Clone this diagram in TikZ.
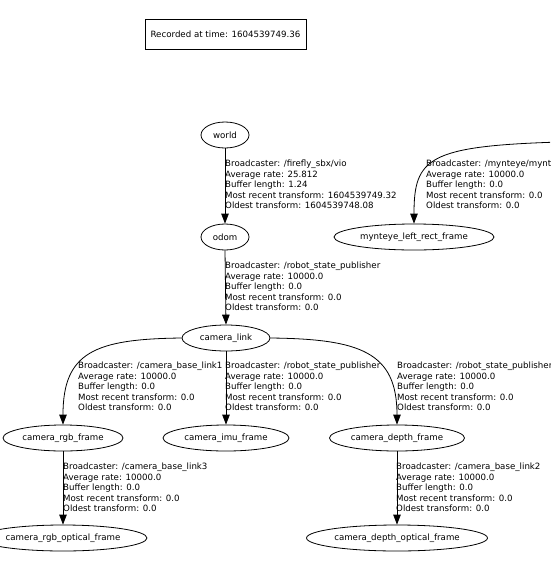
\documentclass[tikz,border=0pt]{standalone}
\usepackage{fontspec}
\setmainfont{DejaVu Sans}
\usetikzlibrary{shapes.geometric, arrows.meta}
\tikzstyle{frame}=[draw, ellipse, minimum height=26pt, inner sep=0pt, line width=0.8pt]
\tikzstyle{tf}=[line width=0.8pt, -{Triangle[length=10pt, width=7.5pt]}]
\tikzstyle{info}=[anchor=north west, align=left, inner sep=0pt]

\begin{document}
\begin{tikzpicture}[x=1pt, y=-1pt, font=\fontsize{8.65}{10.5}\selectfont]
				\useasboundingbox (0,0) rectangle (550,582);
				\clip (0,0) rectangle (550,582);

				\node[draw, line width=0.8pt, minimum width=161pt, minimum height=30pt] (stamp) at (225.5,34) {Recorded at time: 1604539749.36};

				\node[frame, minimum width=48pt] (world) at (225,135) {world};
				\node[frame, minimum width=48pt] (odom) at (225,237) {odom};
				\node[frame, minimum width=160pt] (mynteye) at (414,237) {mynteye\_left\_rect\_frame};
				\node[frame, minimum width=88pt] (camlink) at (226,338) {camera\_link};
				\node[frame, minimum width=120pt] (rgb) at (63,438) {camera\_rgb\_frame};
				\node[frame, minimum width=126pt] (imu) at (226,438) {camera\_imu\_frame};
				\node[frame, minimum width=135pt] (depth) at (397,438) {camera\_depth\_frame};
				\node[frame, minimum width=168pt] (rgbopt) at (63,538) {camera\_rgb\_optical\_frame};
				\node[frame, minimum width=181pt] (depthopt) at (397,538) {camera\_depth\_optical\_frame};

				\coordinate (mynteyesrc) at (560,142);

				\draw[tf] (world.south) -- (odom.north);
				\draw[tf] (odom.south) -- (camlink.north);
				\draw[tf] (mynteyesrc) .. controls (428,146) and (414,158) .. (mynteye.north);
				\draw[tf] (camlink.west) .. controls (95,339) and (63,352) .. (rgb.north);
				\draw[tf] (camlink.south) -- (imu.north);
				\draw[tf] (camlink.east) .. controls (360,339) and (397,352) .. (depth.north);
				\draw[tf] (rgb.south) -- (rgbopt.north);
				\draw[tf] (depth.south) -- (depthopt.north);

				\node[info] (worldinfo) at (225,160) {Broadcaster: /firefly\_sbx/vio\\Average rate: 25.812\\Buffer length: 1.24\\Most recent transform: 1604539749.32\\Oldest transform: 1604539748.08};
				\node[info] (odominfo) at (225,262) {Broadcaster: /robot\_state\_publisher\\Average rate: 10000.0\\Buffer length: 0.0\\Most recent transform: 0.0\\Oldest transform: 0.0};
				\node[info] (mynteyeinfo) at (426,160) {Broadcaster: /mynteye/mynt\\Average rate: 10000.0\\Buffer length: 0.0\\Most recent transform: 0.0\\Oldest transform: 0.0};
				\node[info] (rgbinfo) at (78,362) {Broadcaster: /camera\_base\_link1\\Average rate: 10000.0\\Buffer length: 0.0\\Most recent transform: 0.0\\Oldest transform: 0.0};
				\node[info] (imuinfo) at (225,362) {Broadcaster: /robot\_state\_publisher\\Average rate: 10000.0\\Buffer length: 0.0\\Most recent transform: 0.0\\Oldest transform: 0.0};
				\node[info] (depthinfo) at (397,362) {Broadcaster: /robot\_state\_publisher\\Average rate: 10000.0\\Buffer length: 0.0\\Most recent transform: 0.0\\Oldest transform: 0.0};
				\node[info] (rgboptinfo) at (63,463) {Broadcaster: /camera\_base\_link3\\Average rate: 10000.0\\Buffer length: 0.0\\Most recent transform: 0.0\\Oldest transform: 0.0};
				\node[info] (depthoptinfo) at (396,463) {Broadcaster: /camera\_base\_link2\\Average rate: 10000.0\\Buffer length: 0.0\\Most recent transform: 0.0\\Oldest transform: 0.0};
			\end{tikzpicture}
\end{document}
